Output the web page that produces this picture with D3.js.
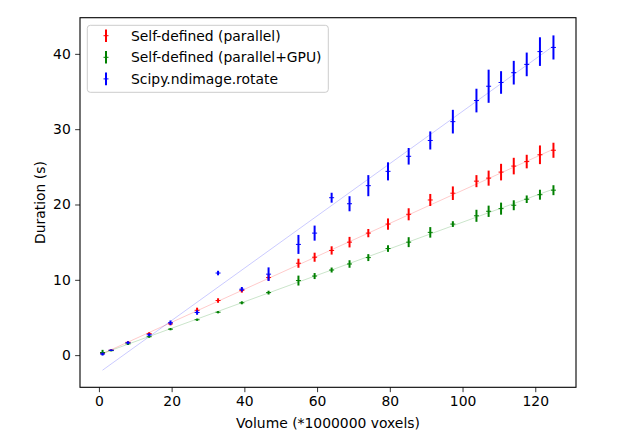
<!DOCTYPE html>
<html><head><meta charset="utf-8">
<script src="https://cdn.jsdelivr.net/npm/d3@7"></script>
<style>body{margin:0;background:#fff}svg{display:block;font-family:"DejaVu Sans",sans-serif}</style>
</head><body><svg id="c" width="640" height="440"></svg>
<script>
const volumes = [1, 3.375, 8, 13.824, 19.683, 27, 32.768, 39.304, 46.656, 54.872, 59.319, 64, 68.921, 74.088, 79.507, 85.184, 91.125, 97.336, 103.823, 107.172, 110.592, 114.084, 117.649, 121.287, 125];
const parallelMean = [0.25, 0.65, 1.7, 2.85, 4.15, 5.95, 7.25, 8.6, 10.3, 12.2, 13.0, 13.9, 15.0, 16.2, 17.4, 18.7, 20.6, 21.5, 23.1, 23.5, 24.3, 25.1, 25.7, 26.6, 27.2];
const parallelErr = [0.15, 0.1, 0.15, 0.2, 0.2, 0.35, 0.3, 0.3, 0.4, 0.6, 0.6, 0.55, 0.7, 0.55, 0.75, 0.8, 0.8, 0.9, 0.8, 1.0, 1.1, 1.1, 0.9, 1.24, 1.0];
const gpuMean = [0.35, 0.6, 1.5, 2.45, 3.45, 4.7, 5.7, 6.95, 8.3, 9.9, 10.5, 11.3, 12.1, 12.95, 14.15, 15.0, 16.3, 17.4, 18.5, 19.1, 19.45, 19.9, 20.7, 21.3, 21.9];
const gpuErr = [0.35, 0.1, 0.15, 0.15, 0.15, 0.15, 0.15, 0.2, 0.25, 0.66, 0.4, 0.33, 0.5, 0.46, 0.44, 0.66, 0.7, 0.38, 0.8, 0.75, 0.8, 0.66, 0.5, 0.66, 0.66];
const scipyMean = [0.15, 0.65, 1.65, 2.7, 4.3, 5.66, 10.9, 8.75, 10.75, 14.7, 16.2, 20.9, 20.1, 22.5, 24.4, 26.4, 28.5, 31.0, 33.8, 35.7, 36.2, 37.5, 38.6, 40.3, 40.85];
const scipyErr = [0.2, 0.1, 0.2, 0.2, 0.3, 0.3, 0.3, 0.3, 0.9, 1.26, 1.0, 0.66, 1.0, 1.4, 1.2, 1.1, 1.2, 1.57, 1.57, 2.2, 1.5, 1.57, 1.57, 1.9, 1.6];
// fitted trend lines: [x, y] endpoints
const parallelFit = [[1, 0.2], [125, 27.35]];
const gpuFit = [[1, 0.22], [125, 22.05]];
const scipyFit = [[1, -2.0], [125, 41.05]];
const seriesNames = ["Self-defined (parallel)", "Self-defined (parallel+GPU)", "Scipy.ndimage.rotate"];
const seriesColors = ["#ff0000", "#008000", "#0000ff"];
const xTicks = [0, 20, 40, 60, 80, 100, 120];
const yTicks = [0, 10, 20, 30, 40];

const series = [
  {name: seriesNames[0], color: seriesColors[0], mean: parallelMean, err: parallelErr, fit: parallelFit},
  {name: seriesNames[1], color: seriesColors[1], mean: gpuMean, err: gpuErr, fit: gpuFit},
  {name: seriesNames[2], color: seriesColors[2], mean: scipyMean, err: scipyErr, fit: scipyFit}
];

const svg = d3.select("#c");
const L = 80, R = 576, T = 17.7, B = 387.3;
const x = d3.scaleLinear().domain([-5.2, 131.2]).range([L, R]);
const y = d3.scaleLinear().domain([-4.27, 44.8]).range([B, T]);

const plot = svg.append("g");
// fit lines
const line = d3.line().x(d => x(d[0])).y(d => y(d[1]));
series.forEach(s => {
  plot.append("path").attr("d", line(s.fit)).attr("fill", "none")
    .attr("stroke", s.color).attr("stroke-opacity", 0.3).attr("stroke-width", 0.7);
});
// error bars
series.forEach(s => {
  const g = plot.append("g");
  volumes.forEach((v, i) => {
    const cx = x(v);
    g.append("line").attr("x1", cx).attr("x2", cx)
      .attr("y1", y(s.mean[i] - s.err[i])).attr("y2", y(s.mean[i] + s.err[i]))
      .attr("stroke", s.color).attr("stroke-width", 2);
    g.append("line").attr("x1", cx - 2.5).attr("x2", cx + 2.5)
      .attr("y1", y(s.mean[i])).attr("y2", y(s.mean[i]))
      .attr("stroke", s.color).attr("stroke-width", 1);
  });
});

// axes
const xAxis = d3.axisBottom(x).tickValues(xTicks).tickSize(4.86).tickPadding(4.4);
const yAxis = d3.axisLeft(y).tickValues(yTicks).tickSize(4.86).tickPadding(4.4);
const gx = svg.append("g").attr("transform", `translate(0,${B})`).call(xAxis);
const gy = svg.append("g").attr("transform", `translate(${L},0)`).call(yAxis);
[gx, gy].forEach(g => {
  g.select(".domain").remove();
  g.selectAll("line").attr("stroke", "#000").attr("stroke-width", 0.8);
  g.selectAll("text").attr("fill", "#000").style("font-size", "13.9px").style("font-family", "DejaVu Sans");
});
svg.append("rect").attr("x", L).attr("y", T).attr("width", R - L).attr("height", B - T)
  .attr("fill", "none").attr("stroke", "#000").attr("stroke-width", 1.1);

svg.append("text").attr("x", (L + R) / 2).attr("y", 428).attr("text-anchor", "middle")
  .style("font-size", "13.9px").text("Volume (*1000000 voxels)");
svg.append("text").attr("transform", `translate(45,${(T + B) / 2}) rotate(-90)`).attr("text-anchor", "middle")
  .style("font-size", "13.9px").text("Duration (s)");

// legend
const lg = svg.append("g");
lg.append("rect").attr("x", 87.3).attr("y", 25.3).attr("width", 241).attr("height", 67)
  .attr("rx", 3).attr("fill", "#fff").attr("fill-opacity", 0.8).attr("stroke", "#cccccc").attr("stroke-width", 1);
series.forEach((s, i) => {
  const cy = 35.7 + i * 21.6;
  lg.append("line").attr("x1", 106).attr("x2", 106).attr("y1", cy - 6.3).attr("y2", cy + 6.3)
    .attr("stroke", s.color).attr("stroke-width", 2);
  lg.append("line").attr("x1", 103.5).attr("x2", 108.5).attr("y1", cy).attr("y2", cy)
    .attr("stroke", s.color).attr("stroke-width", 1);
  lg.append("text").attr("x", 131).attr("y", cy).attr("dy", "0.36em")
    .style("font-size", "13.9px").text(s.name);
});
</script></body></html>
